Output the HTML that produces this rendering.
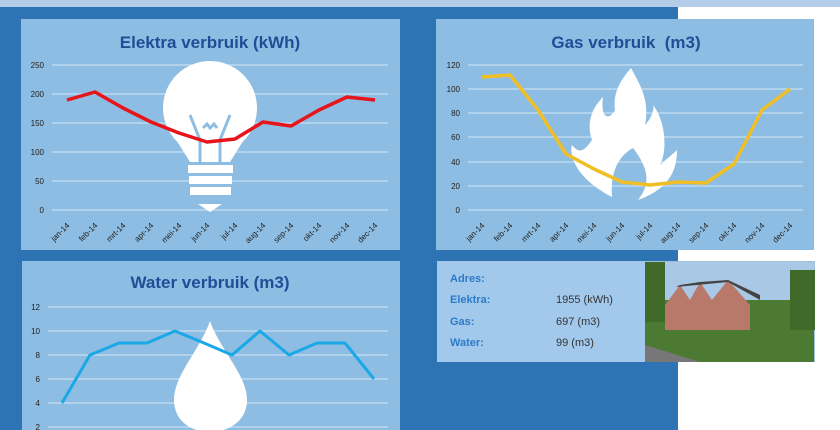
<!DOCTYPE html>
<html><head><meta charset="utf-8"><style>
html,body{margin:0;padding:0;background:#fff;}
svg{display:block;font-family:"Liberation Sans",sans-serif;}
.t{font-family:"Liberation Sans",sans-serif;font-weight:bold;fill:#1f4e96;font-size:17px;text-anchor:middle}
.yl{font-size:8px;fill:#222;text-anchor:end}
.xl{font-size:8px;fill:#222;text-anchor:end}
.g{stroke:#d5e6f5;stroke-width:1}
.i{font-size:11px;font-weight:bold;fill:#2b7bc9}
.v{font-size:11px;fill:#333}
</style></head><body>
<svg width="840" height="430" viewBox="0 0 840 430">
<rect x="0" y="0" width="840" height="430" fill="#fff"/>
<rect x="0" y="0" width="840" height="7" fill="#b3cde9"/>
<rect x="0" y="7" width="678" height="423" fill="#2e74b5"/>

<!-- Elektra -->
<rect x="21" y="19" width="379" height="231" fill="#8dbde2"/>
<text class="t" x="210" y="48">Elektra verbruik (kWh)</text>
<g class="g"><line x1="52" x2="388" y1="65" y2="65"/><line x1="52" x2="388" y1="94" y2="94"/><line x1="52" x2="388" y1="123" y2="123"/><line x1="52" x2="388" y1="152" y2="152"/><line x1="52" x2="388" y1="181" y2="181"/><line x1="52" x2="388" y1="210" y2="210"/></g>
<g class="yl"><text x="44" y="68">250</text><text x="44" y="97">200</text><text x="44" y="126">150</text><text x="44" y="155">100</text><text x="44" y="184">50</text><text x="44" y="213">0</text></g>
<g fill="#fff"><circle cx="210" cy="108" r="47"/><path d="M170 130 L190 162 L230 162 L250 130 Z"/>
<rect x="188" y="165" width="45" height="8"/><rect x="189" y="176" width="43" height="8"/><rect x="190" y="187" width="41" height="8"/><path d="M198 204 L222 204 L210 212 Z"/></g>
<path d="M190 115 L200 140 L200 162 M230 115 L220 140 L220 162 M203 128 L207 124 L210 128 L214 124 L217 128" stroke="#8dbde2" stroke-width="3" fill="none"/>
<polyline fill="none" stroke="#e8141c" stroke-width="3.5" stroke-linejoin="round" points="67,100 95,92 123,108 151,122 179,133 207,142 235,139 263,122 291,126 319,110 347,97 375,100"/>
<g class="xl">
<text transform="translate(70,226) rotate(-45)">jan-14</text><text transform="translate(98,226) rotate(-45)">feb-14</text><text transform="translate(126,226) rotate(-45)">mrt-14</text><text transform="translate(154,226) rotate(-45)">apr-14</text><text transform="translate(182,226) rotate(-45)">mei-14</text><text transform="translate(210,226) rotate(-45)">jun-14</text><text transform="translate(238,226) rotate(-45)">jul-14</text><text transform="translate(266,226) rotate(-45)">aug-14</text><text transform="translate(294,226) rotate(-45)">sep-14</text><text transform="translate(322,226) rotate(-45)">okt-14</text><text transform="translate(350,226) rotate(-45)">nov-14</text><text transform="translate(378,226) rotate(-45)">dec-14</text></g>

<!-- Gas -->
<rect x="436" y="19" width="378" height="231" fill="#8dbde2"/>
<text class="t" x="626" y="48">Gas verbruik&#160; (m3)</text>
<g class="g"><line x1="468" x2="803" y1="65" y2="65"/><line x1="468" x2="803" y1="89" y2="89"/><line x1="468" x2="803" y1="113" y2="113"/><line x1="468" x2="803" y1="137" y2="137"/><line x1="468" x2="803" y1="162" y2="162"/><line x1="468" x2="803" y1="186" y2="186"/><line x1="468" x2="803" y1="210" y2="210"/></g>
<g class="yl"><text x="460" y="68">120</text><text x="460" y="92">100</text><text x="460" y="116">80</text><text x="460" y="140">60</text><text x="460" y="165">40</text><text x="460" y="189">20</text><text x="460" y="213">0</text></g>
<path fill="#fff" d="M612 197 C570 175 570 150 572 145 C580 155 585 150 592 140 C585 120 595 105 603 97 C600 120 610 120 615 110 C612 90 625 75 631 68 C640 85 650 100 645 125 C650 120 655 110 653 105 C665 120 668 150 660 165 C665 160 672 155 677 150 C677 175 665 190 638 200 C650 185 650 170 633 148 C620 155 610 170 612 197 Z"/>
<polyline fill="none" stroke="#f0be25" stroke-width="3.5" stroke-linejoin="round" points="482,77 510,75 538,110 566,154 594,169 622,182 650,185 678,182 706,183 734,164 762,110 790,89"/>
<g class="xl">
<text transform="translate(485,226) rotate(-45)">jan-14</text><text transform="translate(513,226) rotate(-45)">feb-14</text><text transform="translate(541,226) rotate(-45)">mrt-14</text><text transform="translate(569,226) rotate(-45)">apr-14</text><text transform="translate(597,226) rotate(-45)">mei-14</text><text transform="translate(625,226) rotate(-45)">jun-14</text><text transform="translate(653,226) rotate(-45)">jul-14</text><text transform="translate(681,226) rotate(-45)">aug-14</text><text transform="translate(709,226) rotate(-45)">sep-14</text><text transform="translate(737,226) rotate(-45)">okt-14</text><text transform="translate(765,226) rotate(-45)">nov-14</text><text transform="translate(793,226) rotate(-45)">dec-14</text></g>

<!-- Water -->
<rect x="22" y="261" width="378" height="169" fill="#8dbde2"/>
<text class="t" x="210" y="288">Water verbruik (m3)</text>
<g class="g"><line x1="48" x2="388" y1="307" y2="307"/><line x1="48" x2="388" y1="331" y2="331"/><line x1="48" x2="388" y1="355" y2="355"/><line x1="48" x2="388" y1="379" y2="379"/><line x1="48" x2="388" y1="403" y2="403"/><line x1="48" x2="388" y1="427" y2="427"/></g>
<g class="yl"><text x="40" y="310">12</text><text x="40" y="334">10</text><text x="40" y="358">8</text><text x="40" y="382">6</text><text x="40" y="406">4</text><text x="40" y="430">2</text></g>
<path fill="#fff" d="M210 321 C200 350 174 375 174 400 C174 420 190 432 210 432 C230 432 247 420 247 400 C247 375 220 350 210 321 Z"/>
<polyline fill="none" stroke="#1aa8e6" stroke-width="3" stroke-linejoin="round" points="62,403 90,355 119,343 147,343 175,331 204,343 232,355 260,331 289,355 317,343 345,343 374,379"/>

<!-- Info -->
<rect x="437" y="261" width="208" height="101" fill="#a2c8eb"/>
<text class="i" x="450" y="282">Adres:</text>
<text class="i" x="450" y="303">Elektra:</text><text class="v" x="556" y="303">1955 (kWh)</text>
<text class="i" x="450" y="325">Gas:</text><text class="v" x="556" y="325">697 (m3)</text>
<text class="i" x="450" y="346">Water:</text><text class="v" x="556" y="346">99 (m3)</text>
<rect x="645" y="261" width="170" height="101" fill="#9fc0d8"/>
<rect x="645" y="262" width="169" height="45" fill="#a8c8e6"/>
<rect x="645" y="300" width="169" height="62" fill="#4d7a32"/>
<path d="M665 305 L680 285 L690 300 L700 282 L712 300 L728 280 L750 305 L750 330 L665 330 Z" fill="#b9796a"/>
<path d="M676 287 L680 285 L700 282 L728 280 L760 295 L760 300 L728 282 Z" fill="#444"/>
<rect x="645" y="262" width="20" height="60" fill="#3f6a2a"/>
<rect x="790" y="270" width="25" height="60" fill="#3f6a2a"/>
<path d="M645 345 L700 362 L645 362 Z" fill="#777"/>
</svg>
</body></html>
